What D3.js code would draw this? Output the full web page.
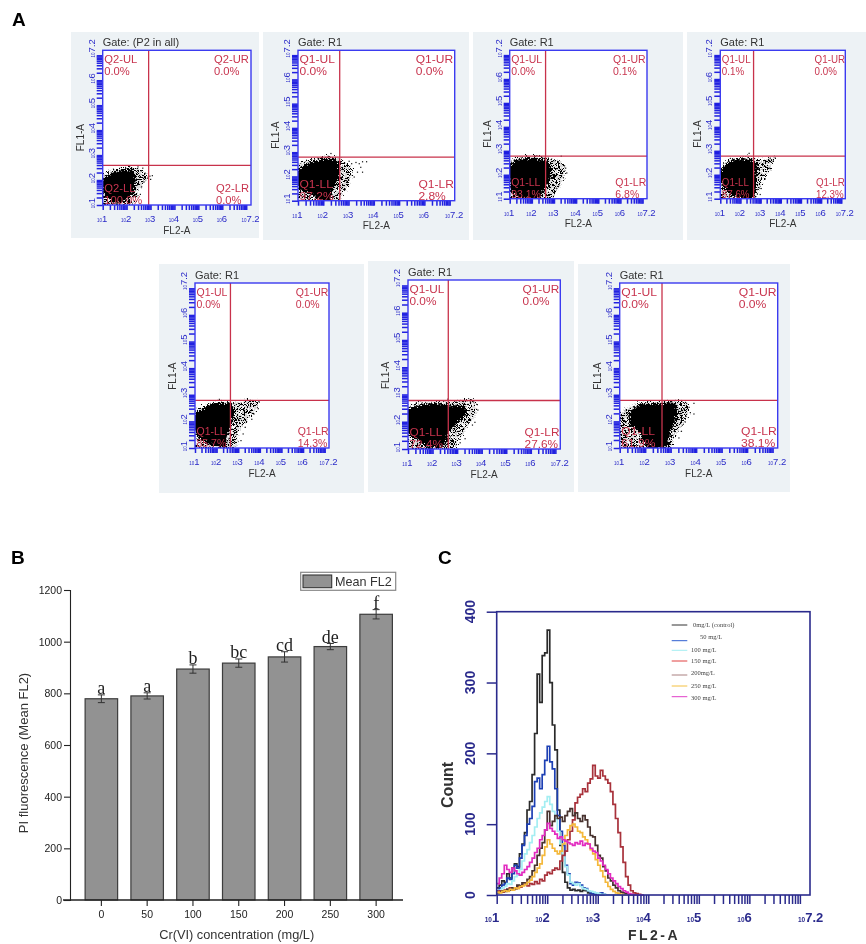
<!DOCTYPE html>
<html>
<head>
<meta charset="utf-8">
<script src="https://cdn.jsdelivr.net/npm/d3@7"></script>
<style>
  body { margin: 0; background: #fff; }
  text { font-family: "Liberation Sans", Arial, sans-serif; }
</style>
</head>
<body>
<div id="chart"></div>
<script>
// ---------- Panel A data (all positions in log10 units of the axes) ----------
var flowTitles = ["Gate: (P2 in all)", "Gate: R1", "Gate: R1", "Gate: R1", "Gate: R1", "Gate: R1", "Gate: R1"];
var quadPrefix = ["Q2", "Q1", "Q1", "Q1", "Q1", "Q1", "Q1"];
var ulValues = ["0.0%", "0.0%", "0.0%", "0.1%", "0.0%", "0.0%", "0.0%"];
var urValues = ["0.0%", "0.0%", "0.1%", "0.0%", "0.0%", "0.0%", "0.0%"];
var llValues = ["100.0%", "97.2%", "93.1%", "87.6%", "85.7%", "72.4%", "61.9%"];
var lrValues = ["0.0%", "2.8%", "6.8%", "12.3%", "14.3%", "27.6%", "38.1%"];
var gateX = [2.92, 2.65, 2.62, 2.65, 2.64, 2.64, 2.66];
var gateY = [2.59, 2.80, 2.78, 2.78, 2.79, 2.78, 2.79];

// dense part of each dot cloud
var cloudCore = [
  [[1,2.0],[1.38,2.27],[1.72,2.38],[2.28,2.38],[2.38,2.0],[2.28,1.53],[2.0,1.2],[1.6,1.05],[1.2,1.3],[1,1.5]],
  [[1,2.2],[1.29,2.5],[1.82,2.64],[2.41,2.7],[2.64,2.47],[2.6,1.92],[2.35,1.44],[2.28,1.03],[1.88,1.03],[1.55,1.23],[1.05,1.5]],
  [[1,2.4],[1.4,2.62],[2.16,2.69],[2.68,2.55],[2.9,2.27],[2.83,1.78],[2.53,1.29],[2.38,1.04],[1.56,1.04],[1.1,1.29],[1,1.7]],
  [[1.12,2.27],[1.45,2.55],[2.1,2.66],[2.6,2.57],[2.85,2.4],[2.8,1.95],[2.75,1.43],[2.69,1.04],[1.78,1.04],[1.2,1.43],[1,1.85]],
  [[1,2.24],[1.39,2.49],[1.93,2.68],[2.62,2.65],[2.85,2.43],[2.7,1.93],[2.47,1.43],[2.39,1.05],[1.62,1.18],[1.08,1.49]],
  [[1,2.43],[1.42,2.59],[1.9,2.67],[2.57,2.61],[3.25,2.55],[3.39,2.31],[2.98,1.94],[2.64,1.57],[2.5,1.15],[1.76,1.09],[1.28,1.39],[1,1.57]],
  [[1.44,2.37],[1.77,2.62],[2.42,2.65],[3.14,2.68],[3.27,2.37],[3.14,1.93],[2.95,1.43],[2.82,1.05],[2.03,1.11],[1.7,1.68],[1.38,1.93]]
];
// outer, thinner part of each dot cloud
var cloudEdge = [
  [[1,2.2],[1.4,2.4],[1.8,2.5],[2.3,2.5],[2.8,2.25],[2.85,2.05],[2.5,1.6],[2.4,1.15],[2.2,1],[1,1]],
  [[1,2.47],[1.55,2.7],[2.28,2.85],[2.74,2.68],[3.14,2.33],[3.07,1.78],[2.74,1.23],[2.68,1],[1,1]],
  [[1,2.55],[1.5,2.72],[2.2,2.78],[2.8,2.65],[3.29,2.55],[3.51,2.27],[3.36,1.7],[3.06,1.22],[2.9,1],[1,1]],
  [[1,2.1],[1.3,2.55],[1.9,2.7],[2.6,2.7],[3.2,2.62],[3.68,2.75],[3.5,2.3],[3.3,2.0],[3,1.6],[2.85,1.2],[2.75,1],[1,1]],
  [[1,2.35],[1.5,2.6],[1.9,2.75],[2.6,2.72],[3.85,2.78],[3.85,2.49],[3.47,2.05],[3.0,1.6],[2.95,1.1],[2.85,1],[1,1]],
  [[1,2.55],[1.5,2.7],[2,2.72],[2.6,2.72],[3.66,2.8],[3.75,2.6],[3.75,2.2],[3.5,1.95],[3.2,1.5],[2.95,1.1],[2.85,1],[1,1]],
  [[1,2.25],[1.3,2.5],[1.7,2.68],[2.4,2.75],[3.2,2.78],[3.6,2.68],[3.67,2.24],[3.4,1.8],[3.1,1.3],[3,1],[1,1]]
];
// single dots that sit clear of the clouds
var cloudStray = [
  [[2.6,2.4],[2.75,2.3],[2.95,2.18],[3.05,2.2],[2.85,2.1],[2.65,2.5],[2.45,2.55],[2.1,2.56],[2.7,1.95],[2.6,1.75],[2.98,2.05],[2.55,1.45]],
  [[3.27,2.6],[3.53,2.63],[3.69,2.63],[3.46,2.4],[3.33,2.2],[3.53,2.2],[3.2,2.0],[3.1,2.55],[3.0,2.65],[2.28,2.97],[2.18,2.85],[3.4,2.55],[2.9,1.85],[2.85,1.5]],
  [[3.3,2.8],[2.2,2.82],[3.45,2.4],[3.55,2.1],[3.4,1.9],[3.2,1.6],[3.1,1.45],[3.5,2.3]],
  [[2.4,2.92],[3.7,2.72],[3.6,2.6],[3.45,2.72],[3.4,2.3],[3.2,1.85],[3.0,1.45],[2.95,1.2]],
  [[2.1,2.85],[3.9,2.5],[3.7,2.3],[3.6,2.1],[3.3,1.8],[3.2,1.55],[3.95,2.75],[3.1,1.3]],
  [[2.6,2.85],[3.5,2.8],[3.65,2.75],[3.8,2.65],[3.7,2.0],[3.6,1.9],[3.3,1.4],[3.1,1.25],[3.82,2.45]],
  [[3.89,2.7],[3.89,2.3],[3.6,2.7],[3.7,2.55],[3.5,2.5],[3.75,2.35],[3.55,2.0],[3.4,1.65],[3.3,1.4]]
];

// ---------- Panel B data ----------
var concentrations = ["0", "50", "100", "150", "200", "250", "300"];
var meanFL2 = [779, 790, 894, 917, 941, 981, 1106];
var meanErr = [15, 12, 16, 16, 20, 12, 18];
var sigLetters = ["a", "a", "b", "bc", "cd", "de", "f"];
var barTicks = [0, 200, 400, 600, 800, 1000, 1200];

// ---------- Panel C data ----------
var histLabels = ["0mg/L (control)", "50 mg/L", "100 mg/L", "150 mg/L", "200mg/L", "250 mg/L", "300 mg/L"];
var histColors = ["#2b2b2b", "#1f3fb4", "#a4eef2", "#a8303a", "#46302e", "#f4b83a", "#e22cc0"];
var legendColors = ["#333333", "#2f5fd0", "#a4eef2", "#e04040", "#a98080", "#f4c040", "#e040c8"];
var histBins = [
  1.00,1.05,1.10,1.15,1.20,1.25,1.30,1.35,1.40,1.45,
  1.50,1.55,1.60,1.65,1.70,1.75,1.80,1.85,1.90,1.95,
  2.00,2.05,2.10,2.15,2.20,2.25,2.30,2.35,2.40,2.45,
  2.50,2.55,2.60,2.65,2.70,2.75,2.80,2.85,2.90,2.95,
  3.00,3.05,3.10,3.15,3.20,3.25,3.30,3.35,3.40,3.45,
  3.50,3.55,3.60,3.65,3.70,3.75,3.80,3.85,3.90
];
var hist0 = [
  10,14,20,18,30,24,38,44,40,58,
  72,88,120,132,170,228,312,272,338,342,
  374,300,240,205,120,70,32,18,10,7,
  8,6,7,5,7,6,3,2,2,1,
  1,0,0,0,0,0,0,0,0,0,
  0,0,0,0,0,0,0,0,0];
var hist50 = [
  6,10,14,16,24,22,30,42,38,52,
  70,84,100,108,125,160,165,150,170,190,
  210,188,178,150,112,90,70,42,30,16,
  14,18,17,14,10,9,6,3,2,1,
  1,3,1,0,0,0,0,0,0,0,
  0,0,0,0,0,0,0,0,0];
var hist100 = [
  4,7,10,12,16,15,20,26,28,36,
  48,58,64,74,84,96,108,116,124,132,
  139,128,118,108,90,72,56,40,28,18,
  16,14,16,12,9,8,6,5,4,3,
  2,1,1,0,0,0,0,0,0,0,
  0,0,0,0,0,0,0,0,0];
var hist150 = [
  5,6,4,7,8,10,7,9,12,11,
  14,17,13,16,15,19,16,22,20,28,
  32,30,35,38,36,48,56,62,78,90,
  106,130,138,142,150,146,158,164,183,168,
  165,176,168,163,158,146,128,108,88,68,
  46,26,14,6,3,2,1,0,0];
var hist200 = [
  3,4,6,5,8,7,10,9,14,13,
  17,16,22,26,34,42,56,66,74,92,
  118,98,104,112,108,110,104,112,118,122,
  112,116,108,104,112,106,96,84,82,70,
  56,52,40,34,24,20,14,10,6,4,
  3,2,1,0,0,0,0,0,0];
var hist250 = [
  4,3,5,6,5,8,7,10,9,12,
  13,15,18,21,26,32,38,44,56,68,
  78,72,66,62,58,62,72,84,92,98,
  100,96,90,88,82,78,72,64,58,50,
  42,34,26,18,12,8,5,3,2,1,
  0,0,0,0,0,0,0,0,0];
var hist300 = [
  16,24,30,42,36,32,38,34,30,28,
  32,36,40,46,52,60,66,78,84,92,
  101,94,90,86,80,82,78,76,74,72,
  70,74,72,76,70,73,72,66,62,60,
  52,48,42,36,30,24,20,16,12,9,
  6,4,2,1,0,0,0,0,0];
var histSeries = [hist0, hist50, hist100, hist150, hist200, hist250, hist300];
var histTicks = [0, 100, 200, 300, 400];
var decades = ["1", "2", "3", "4", "5", "6", "7.2"];

// ---------- Layout ----------
var svgWidth = 866;
var svgHeight = 944;
// backing box and plot box of each flow panel: [bgLeft, bgTop, bgRight, bgBottom, left, top, right, bottom,
// horizontal stretch of the quadrant text, UR text inset, LR text inset]
var flowFrames = [
  [71, 32, 259, 238, 102.7, 50.3, 251, 205, 1.09, 37, 35],
  [263, 32, 469, 240, 298, 50.3, 454.7, 200.7, 1.17, 39, 36.3],
  [473, 32, 683, 240, 509.7, 50.3, 647, 198.7, 1.02, 34, 31.7],
  [687, 32, 866, 240, 720.3, 50.3, 845.3, 198.7, 0.95, 30.7, 29.3],
  [159, 264, 364, 493, 195, 283, 329, 448, 1.02, 33.3, 31.3],
  [368, 261, 574, 492, 408, 280, 560.3, 449, 1.15, 37.7, 35.7],
  [578, 264, 790, 492, 619.7, 283, 777.7, 448, 1.18, 39, 36.7]
];

var blue = "#2020e0";
var quadRed = "#c8344e";
var quadFont = 10.3;

var svg = d3.select("#chart")
  .append("svg")
  .attr("width", svgWidth)
  .attr("height", svgHeight)
  .style("display", "block");

var defs = svg.append("defs");

// the source figure is a soft, resampled scan
defs.append("filter")
  .attr("id", "soft")
  .attr("x", 0).attr("y", 0).attr("width", 1).attr("height", 1)
  .attr("filterUnits", "objectBoundingBox")
  .append("feGaussianBlur")
  .attr("stdDeviation", 0.55);

// roughens the cloud outlines so they read as dots
var rough = defs.append("filter")
  .attr("id", "rough")
  .attr("x", "-10%").attr("y", "-10%").attr("width", "120%").attr("height", "120%");
rough.append("feTurbulence")
  .attr("type", "fractalNoise")
  .attr("baseFrequency", 0.7)
  .attr("numOctaves", 2)
  .attr("seed", 4)
  .attr("result", "noise");
rough.append("feDisplacementMap")
  .attr("in", "SourceGraphic")
  .attr("in2", "noise")
  .attr("scale", 9)
  .attr("xChannelSelector", "R")
  .attr("yChannelSelector", "G");

// stipple texture for the thin edge of the dot clouds
var stipple = defs.append("pattern")
  .attr("id", "stipple")
  .attr("width", 9).attr("height", 9)
  .attr("patternUnits", "userSpaceOnUse");
[[0,0],[2,0],[5,0],[7,1],[1,2],[3,1],[4,2],[6,2],[8,3],[0,4],[2,3],[3,4],[5,4],[7,4],
 [1,5],[4,5],[6,6],[8,6],[0,7],[2,6],[3,7],[5,7],[7,7],[1,8],[4,8],[8,8]].forEach(function(p) {
  stipple.append("rect")
    .attr("x", p[0]).attr("y", p[1])
    .attr("width", 1.15).attr("height", 1.15)
    .attr("fill", "#000");
});

var root = svg.append("g").attr("filter", "url(#soft)");

root.append("rect")
  .attr("width", svgWidth)
  .attr("height", svgHeight)
  .attr("fill", "#fff");

// small "10" with a larger exponent, as on the cytometer axes
function logLabel(sel, exponent, smallSize, bigSize) {
  sel.append("tspan").attr("font-size", smallSize).text("10");
  sel.append("tspan").attr("font-size", bigSize).text(exponent);
}

// ---------- Panel A ----------
flowFrames.forEach(function(f, i) {
  var g = root.append("g");
  var left = f[4], top = f[5], right = f[6], bottom = f[7];

  g.append("rect")
    .attr("x", f[0]).attr("y", f[1])
    .attr("width", f[2] - f[0]).attr("height", f[3] - f[1])
    .attr("fill", "#edf2f5");

  g.append("rect")
    .attr("x", left).attr("y", top)
    .attr("width", right - left).attr("height", bottom - top)
    .attr("fill", "#fff");

  defs.append("clipPath")
    .attr("id", "plot" + i)
    .append("rect")
    .attr("x", left).attr("y", top)
    .attr("width", right - left).attr("height", bottom - top);

  var logX = d3.scaleLog().domain([10, Math.pow(10, 7.2)]).range([left, right]);
  var logY = d3.scaleLog().domain([10, Math.pow(10, 7.2)]).range([bottom, top]);
  var cloudLine = d3.line()
    .x(function(d) { return logX(Math.pow(10, d[0])); })
    .y(function(d) { return logY(Math.pow(10, d[1])); })
    .curve(d3.curveCatmullRomClosed);

  var cloud = g.append("g").attr("clip-path", `url(#plot${i})`);
  cloud.append("path").attr("d", cloudLine(cloudEdge[i])).attr("fill", "url(#stipple)").attr("filter", "url(#rough)");
  cloud.append("path").attr("d", cloudLine(cloudCore[i])).attr("fill", "#000").attr("filter", "url(#rough)");

  cloud.selectAll("rect.stray")
    .data(cloudStray[i])
    .enter()
    .append("rect")
    .attr("class", "stray")
    .attr("x", function(d) { return logX(Math.pow(10, d[0])); })
    .attr("y", function(d) { return logY(Math.pow(10, d[1])); })
    .attr("width", 1.2).attr("height", 1.2)
    .attr("fill", "#111");

  // axes: every decade keeps all its minor ticks
  var bottomAxis = d3.axisBottom(logX).tickSize(5).tickFormat("");
  var leftAxis = d3.axisLeft(logY).tickSize(6).tickFormat("");
  var xAxis = g.append("g").attr("transform", `translate(0, ${bottom})`).call(bottomAxis);
  var yAxis = g.append("g").attr("transform", `translate(${left}, 0)`).call(leftAxis);
  [xAxis, yAxis].forEach(function(a) {
    a.select(".domain").remove();
    a.selectAll("line").attr("stroke", blue).attr("stroke-width", 1.5);
  });

  // quadrant gate
  g.append("line")
    .attr("x1", logX(Math.pow(10, gateX[i]))).attr("x2", logX(Math.pow(10, gateX[i])))
    .attr("y1", top).attr("y2", bottom)
    .attr("stroke", "#c8324b").attr("stroke-width", 1.3);
  g.append("line")
    .attr("x1", left).attr("x2", right)
    .attr("y1", logY(Math.pow(10, gateY[i]))).attr("y2", logY(Math.pow(10, gateY[i])))
    .attr("stroke", "#c8324b").attr("stroke-width", 1.3);

  g.append("rect")
    .attr("x", left).attr("y", top)
    .attr("width", right - left).attr("height", bottom - top)
    .attr("fill", "none")
    .attr("stroke", "#3a3af0")
    .attr("stroke-width", 1.4);

  // quadrant labels, pairs share their left edge
  var q = quadPrefix[i];
  var quadText = [
    [left + 1.5, top + 12.5, q + "-UL"],
    [left + 1.5, top + 24.5, ulValues[i]],
    [right - f[9], top + 12.5, q + "-UR"],
    [right - f[9], top + 24.5, urValues[i]],
    [left + 1.5, bottom - 13, q + "-LL"],
    [left + 1.5, bottom - 1, llValues[i]],
    [right - f[10], bottom - 13, q + "-LR"],
    [right - f[10], bottom - 1, lrValues[i]]
  ];
  g.selectAll("text.quad")
    .data(quadText)
    .enter()
    .append("text")
    .attr("class", "quad")
    .attr("transform", function(d) { return `translate(${d[0]}, ${d[1]}) scale(${f[8]}, 1)`; })
    .attr("font-size", quadFont)
    .attr("fill", quadRed)
    .text(function(d) { return d[2]; });

  g.append("text")
    .attr("x", left)
    .attr("y", top - 4)
    .attr("font-size", 11)
    .attr("fill", "#333")
    .text(flowTitles[i]);

  // decade labels
  decades.forEach(function(dec) {
    var v = Math.pow(10, +dec);
    var xLab = g.append("text")
      .attr("x", logX(v) - 0.5)
      .attr("y", bottom + 17)
      .attr("text-anchor", "middle")
      .attr("fill", "#2a2ac8");
    logLabel(xLab, dec, 4.5, 9.5);

    var yLab = g.append("text")
      .attr("transform", `translate(${left - 8}, ${logY(v) - 2}) rotate(-90)`)
      .attr("text-anchor", "middle")
      .attr("fill", "#2a2ac8");
    logLabel(yLab, dec, 4.5, 9.5);
  });

  g.append("text")
    .attr("x", (left + right) / 2)
    .attr("y", bottom + 28.5)
    .attr("text-anchor", "middle")
    .attr("font-size", 10)
    .attr("fill", "#333")
    .text("FL2-A");

  g.append("text")
    .attr("transform", `translate(${left - 19}, ${logY(Math.pow(10, 3.7))}) rotate(-90)`)
    .attr("text-anchor", "middle")
    .attr("font-size", 10)
    .attr("fill", "#333")
    .text("FL1-A");
});

// ---------- Panel letters ----------
[["A", 12, 26], ["B", 11, 564], ["C", 438, 564]].forEach(function(p) {
  root.append("text")
    .attr("x", p[1]).attr("y", p[2])
    .attr("font-size", 19)
    .attr("font-weight", "bold")
    .attr("fill", "#000")
    .text(p[0]);
});

// ---------- Panel B ----------
var barX = d3.scaleBand()
  .domain(concentrations)
  .range([70, 407.5])
  .paddingInner(0.29)
  .paddingOuter(0.33);

var barY = d3.scaleLinear().domain([0, 1200]).range([900, 590]);

root.selectAll("rect.bar")
  .data(meanFL2)
  .enter()
  .append("rect")
  .attr("class", "bar")
  .attr("x", function(d, i) { return barX(concentrations[i]); })
  .attr("y", function(d) { return barY(d); })
  .attr("width", barX.bandwidth())
  .attr("height", function(d) { return barY(0) - barY(d); })
  .attr("fill", "#929292")
  .attr("stroke", "#3c3c3c")
  .attr("stroke-width", 1.2);

meanFL2.forEach(function(d, i) {
  var cx = barX(concentrations[i]) + barX.bandwidth() / 2;
  var hi = barY(d + meanErr[i]), lo = barY(d - meanErr[i]);
  var err = root.append("g").attr("stroke", "#333").attr("stroke-width", 1);
  err.append("line").attr("x1", cx).attr("x2", cx).attr("y1", hi).attr("y2", lo);
  err.append("line").attr("x1", cx - 3.5).attr("x2", cx + 3.5).attr("y1", hi).attr("y2", hi);
  err.append("line").attr("x1", cx - 3.5).attr("x2", cx + 3.5).attr("y1", lo).attr("y2", lo);

  root.append("text")
    .attr("x", cx)
    .attr("y", hi - 0.5)
    .attr("text-anchor", "middle")
    .attr("font-size", 18)
    .attr("fill", "#222")
    .style("font-family", '"Liberation Serif", serif')
    .text(sigLetters[i]);
});

var barAxisY = root.append("g")
  .attr("transform", "translate(70, 0)")
  .call(d3.axisLeft(barY).tickValues(barTicks).tickFormat(d3.format("d")).tickSize(6).tickPadding(2));
barAxisY.select(".domain").attr("stroke", "#222").attr("stroke-width", 1.1);
barAxisY.selectAll("line").attr("stroke", "#222").attr("stroke-width", 1.1);
barAxisY.selectAll("text").attr("font-size", 10.5).attr("fill", "#222")
  .style("font-family", '"Liberation Sans", Arial, sans-serif');

var barAxisX = root.append("g")
  .attr("transform", "translate(0, 900)")
  .call(d3.axisBottom(barX).tickSize(6).tickPadding(5));
barAxisX.select(".domain").remove();
barAxisX.selectAll("line").attr("stroke", "#222").attr("stroke-width", 1.1);
barAxisX.selectAll("text").attr("font-size", 10.5).attr("fill", "#222")
  .style("font-family", '"Liberation Sans", Arial, sans-serif');
root.append("line")
  .attr("x1", 63).attr("x2", 403)
  .attr("y1", 900).attr("y2", 900)
  .attr("stroke", "#222").attr("stroke-width", 1.3);

root.append("text")
  .attr("x", 236.7).attr("y", 939)
  .attr("text-anchor", "middle")
  .attr("font-size", 12.8)
  .attr("fill", "#333")
  .text("Cr(VI) concentration (mg/L)");

root.append("text")
  .attr("transform", "translate(28, 753) rotate(-90)")
  .attr("text-anchor", "middle")
  .attr("font-size", 13)
  .attr("fill", "#333")
  .text("PI fluorescence (Mean FL2)");

// legend
root.append("rect")
  .attr("x", 300.7).attr("y", 572.3)
  .attr("width", 95).attr("height", 18)
  .attr("fill", "#fff")
  .attr("stroke", "#888")
  .attr("stroke-width", 1.2);
root.append("rect")
  .attr("x", 303).attr("y", 575)
  .attr("width", 28.7).attr("height", 12.7)
  .attr("fill", "#929292")
  .attr("stroke", "#333")
  .attr("stroke-width", 1.1);
root.append("text")
  .attr("x", 335).attr("y", 586)
  .attr("font-size", 12.6)
  .attr("fill", "#333")
  .text("Mean FL2");

// ---------- Panel C ----------
var navy = "#2a2a8c";
var histX = d3.scaleLog().domain([10, Math.pow(10, 7.2)]).range([496.7, 810]);
var histY = d3.scaleLinear().domain([0, 400]).range([895, 611.7]);

var histLine = d3.line()
  .x(function(d, i) { return histX(Math.pow(10, histBins[i])); })
  .y(function(d) { return histY(d); })
  .curve(d3.curveStepAfter);

root.append("g")
  .selectAll("path")
  .data(histSeries)
  .enter()
  .append("path")
  .attr("d", function(d) { return histLine(d); })
  .attr("fill", "none")
  .attr("stroke", function(d, i) { return histColors[i]; })
  .attr("stroke-width", 1.7);

root.append("rect")
  .attr("x", 496.7).attr("y", 611.7)
  .attr("width", 313.3).attr("height", 283.3)
  .attr("fill", "none")
  .attr("stroke", navy)
  .attr("stroke-width", 1.6);

var histAxisX = root.append("g")
  .attr("transform", "translate(0, 895)")
  .call(d3.axisBottom(histX).tickSize(9).tickFormat(""));
histAxisX.select(".domain").remove();
histAxisX.selectAll("line").attr("stroke", navy).attr("stroke-width", 1.5);

var histAxisY = root.append("g")
  .attr("transform", "translate(496.7, 0)")
  .call(d3.axisLeft(histY).tickValues(histTicks).tickSize(10).tickFormat(""));
histAxisY.select(".domain").remove();
histAxisY.selectAll("line").attr("stroke", navy).attr("stroke-width", 1.5);

histTicks.forEach(function(t) {
  root.append("text")
    .attr("transform", `translate(475, ${histY(t)}) rotate(-90)`)
    .attr("text-anchor", "middle")
    .attr("font-size", 14)
    .attr("font-weight", "bold")
    .attr("fill", navy)
    .text(t);
});

decades.forEach(function(dec) {
  var lab = root.append("text")
    .attr("x", histX(Math.pow(10, +dec)) - 12)
    .attr("y", 922)
    .attr("font-weight", "bold")
    .attr("fill", navy);
  logLabel(lab, dec, 6.5, 13);
});

root.append("text")
  .attr("x", 654).attr("y", 939.5)
  .attr("text-anchor", "middle")
  .attr("font-size", 14)
  .attr("font-weight", "bold")
  .attr("letter-spacing", 2.5)
  .attr("fill", "#333")
  .text("FL2-A");

root.append("text")
  .attr("transform", "translate(453, 785) rotate(-90)")
  .attr("text-anchor", "middle")
  .attr("font-size", 16)
  .attr("font-weight", "bold")
  .attr("fill", "#333")
  .text("Count");

// series key, sizes
var keyLineY = [625, 640.7, 650.3, 661, 675, 686, 696.7];
var keyTextY = [627, 639, 651.5, 663, 675, 688, 700];
var keyTextX = [693, 700, 691, 691, 691, 691, 691];
histLabels.forEach(function(label, i) {
  root.append("line")
    .attr("x1", 671.7).attr("x2", 687.3)
    .attr("y1", keyLineY[i]).attr("y2", keyLineY[i])
    .attr("stroke", legendColors[i])
    .attr("stroke-width", 1);
  root.append("text")
    .attr("x", keyTextX[i]).attr("y", keyTextY[i])
    .attr("font-size", 6.5)
    .attr("fill", "#444")
    .style("font-family", '"Liberation Serif", serif')
    .text(label);
});
</script>
</body>
</html>
